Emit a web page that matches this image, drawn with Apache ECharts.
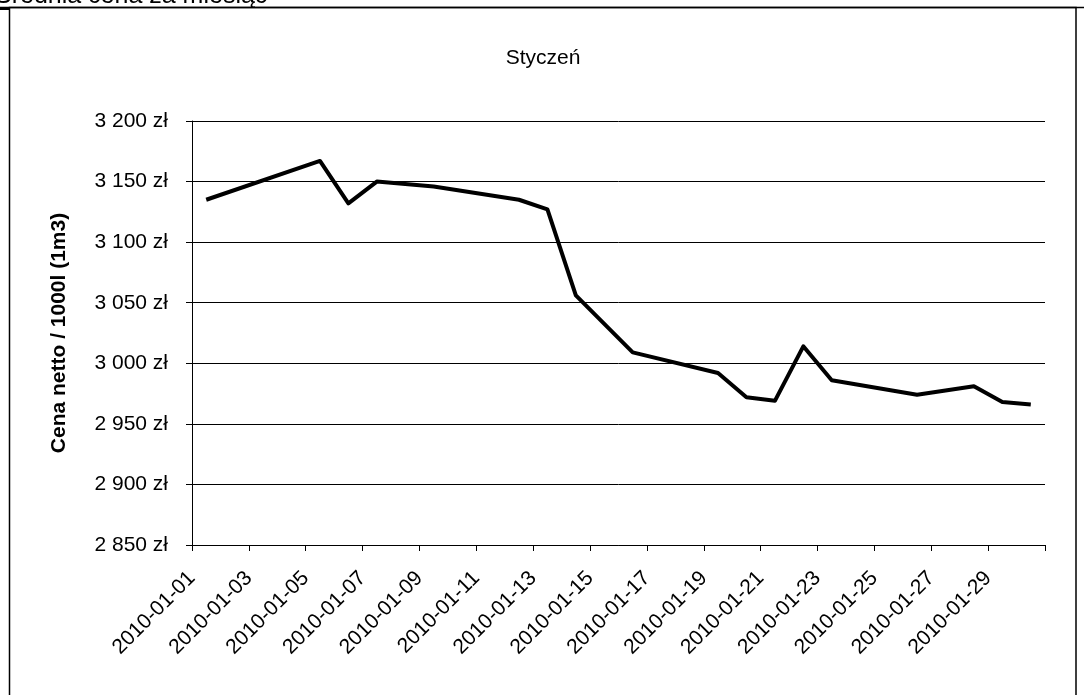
<!DOCTYPE html>
<html>
<head>
<meta charset="utf-8">
<script src="https://cdn.jsdelivr.net/npm/echarts@6/dist/echarts.min.js"></script>
<style>
html,body{margin:0;padding:0;background:#fff;}
#chart{width:1084px;height:695px;}
</style>
</head>
<body>
<div id="chart"></div>
<script>
// Daily categories (January 2010)
var dates = [
  '2010-01-01','2010-01-02','2010-01-03','2010-01-04','2010-01-05','2010-01-06',
  '2010-01-07','2010-01-08','2010-01-09','2010-01-10','2010-01-11','2010-01-12',
  '2010-01-13','2010-01-14','2010-01-15','2010-01-16','2010-01-17','2010-01-18',
  '2010-01-19','2010-01-20','2010-01-21','2010-01-22','2010-01-23','2010-01-24',
  '2010-01-25','2010-01-26','2010-01-27','2010-01-28','2010-01-29','2010-01-30'
];
// Net price per 1000 l (zł); null = no quotation that day
var prices = [
  3135, null, null, null, 3167, 3132,
  3150, null, 3146, null, null, 3135,
  3127, 3056, null, 3009, null, null,
  2992, 2972, 2969, 3014, 2986, null,
  null, 2974, null, 2981, 2968, 2966
];
var chartTitle = 'Styczeń';
var topTitle = 'Średnia cena za miesiąc';
var yAxisTitle = 'Cena netto / 1000l (1m3)';
var yMin = 2850, yMax = 3200, yStep = 50;

var FONT = '"Liberation Sans", Arial, sans-serif';

function fmtZl(v) {
  var s = String(Math.round(v));
  s = s.replace(/\B(?=(\d{3})+(?!\d))/g, ' ');
  return s + ' zł';
}

var seriesData = [];
for (var i = 0; i < dates.length; i++) {
  seriesData.push([i + 0.5, prices[i]]);
}

var chart = echarts.init(document.getElementById('chart'), null, {renderer: 'canvas'});
chart.setOption({
  animation: false,
  backgroundColor: '#fff',
  textStyle: {fontFamily: FONT},
  title: {
    text: chartTitle,
    left: 538,
    textAlign: 'center',
    top: 43,
    textStyle: {fontSize: 21, fontWeight: 'normal', color: '#000', fontFamily: FONT}
  },
  grid: {left: 192, right: 39, top: 121, bottom: 150, containLabel: false},
  xAxis: {
    type: 'value',
    min: 0,
    max: dates.length,
    interval: 2,
    axisLine: {show: true, lineStyle: {color: '#000', width: 1}},
    axisTick: {show: true, length: 6, lineStyle: {color: '#000'}},
    splitLine: {show: false},
    axisLabel: {
      rotate: 45,
      margin: 30,
      fontSize: 21,
      color: '#000',
      fontFamily: FONT,
      showMaxLabel: true,
      formatter: function (v) {
        var k = Math.round(v);
        return k < dates.length ? dates[k] : '';
      }
    }
  },
  yAxis: {
    type: 'value',
    min: yMin,
    max: yMax,
    interval: yStep,
    name: yAxisTitle,
    nameLocation: 'middle',
    nameRotate: 90,
    nameGap: 122,
    nameTextStyle: {fontSize: 21, fontWeight: 'bold', color: '#000', fontFamily: FONT},
    axisLine: {show: true, lineStyle: {color: '#000', width: 1}},
    axisTick: {show: true, length: 6, lineStyle: {color: '#000'}},
    splitLine: {show: true, lineStyle: {color: '#000', width: 1}},
    axisLabel: {
      margin: 24,
      fontSize: 21,
      color: '#000',
      fontFamily: FONT,
      formatter: fmtZl
    }
  },
  series: [{
    type: 'line',
    data: seriesData,
    connectNulls: true,
    showSymbol: false,
    symbol: 'none',
    lineStyle: {color: '#000', width: 4, join: 'round'},
    itemStyle: {color: '#000'}
  }],
  graphic: [
    {
      type: 'text',
      left: -5,
      top: -16,
      style: {text: topTitle, fontSize: 25, fill: '#000', fontFamily: FONT},
      z: 1
    },
    {
      type: 'line',
      shape: {x1: 0, y1: 7.5, x2: 1084, y2: 7.5},
      style: {stroke: '#000', lineWidth: 1.5},
      z: 10
    },
    {
      type: 'rect',
      shape: {x: 0, y: 7, width: 9, height: 3},
      style: {fill: '#000'},
      z: 10
    },
    {
      type: 'rect',
      shape: {x: 9.5, y: 7.5, width: 1066.5, height: 700},
      style: {fill: 'none', stroke: '#000', lineWidth: 1.5},
      z: 10
    }
  ]
});
</script>
</body>
</html>
